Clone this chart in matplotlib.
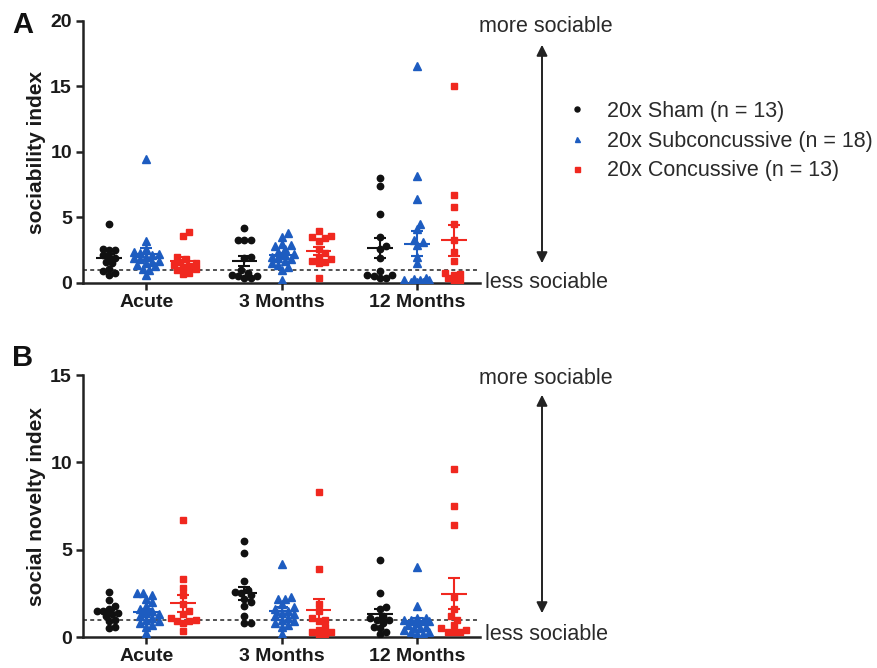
import numpy as np
import matplotlib.pyplot as plt
from matplotlib.lines import Line2D
from matplotlib.patches import FancyArrowPatch

plt.rcParams['font.family'] = ['Liberation Sans', 'DejaVu Sans']

timepoints = ['Acute', '3 Months', '12 Months']
group_labels = ['20x Sham (n = 13)', '20x Subconcussive (n = 18)', '20x Concussive (n = 13)']
colors = ['#111111', '#1d5cc0', '#f0281f']
markers = ['o', '^', 's']
marker_sizes = [4.6, 5.6, 4.4]

# panel A: sociability index, one list per time point
soc_sham = [
    [4.5, 2.6, 2.5, 2.5, 2.1, 2.0, 1.9, 1.6, 1.5, 1.1, 0.9, 0.8, 0.6],
    [4.2, 3.3, 3.3, 3.3, 2.0, 1.9, 1.0, 0.8, 0.6, 0.5, 0.4, 0.4, 0.5],
    [8.0, 7.4, 5.3, 3.5, 2.8, 2.6, 1.9, 0.9, 0.6, 0.5, 0.4, 0.4, 0.6],
]
soc_sub = [
    [9.5, 3.2, 2.6, 2.4, 2.3, 2.2, 2.1, 2.0, 1.9, 1.8, 1.7, 1.6, 1.5, 1.4, 1.3, 1.1, 1.0, 0.6],
    [3.8, 3.5, 3.0, 2.9, 2.8, 2.6, 2.4, 2.2, 2.1, 2.0, 1.9, 1.8, 1.7, 1.5, 1.4, 1.2, 1.0, 0.2],
    [16.6, 8.2, 6.4, 4.5, 4.1, 3.3, 3.1, 2.9, 2.0, 1.5, 0.4, 0.3, 0.2, 0.2, 0.2, 0.1, 0.1, 0.1],
]
soc_conc = [
    [3.9, 3.6, 2.0, 1.8, 1.6, 1.5, 1.4, 1.3, 1.2, 1.1, 1.0, 0.8, 0.7],
    [4.0, 3.6, 3.5, 3.4, 3.2, 2.6, 2.3, 2.0, 1.8, 1.7, 1.6, 1.5, 0.4],
    [15.0, 6.7, 5.8, 4.5, 3.3, 2.4, 1.7, 0.8, 0.7, 0.6, 0.4, 0.2, 0.1],
]

# panel B: social novelty index
nov_sham = [
    [2.6, 2.1, 1.8, 1.6, 1.5, 1.5, 1.4, 1.3, 1.2, 1.0, 0.9, 0.6, 0.5],
    [5.5, 4.8, 3.2, 2.7, 2.6, 2.5, 2.4, 2.2, 2.0, 1.8, 1.2, 0.8, 0.8],
    [4.4, 2.5, 1.7, 1.6, 1.2, 1.0, 1.1, 1.0, 0.8, 0.6, 0.5, 0.3, 0.15],
]
nov_sub = [
    [2.5, 2.5, 2.4, 2.2, 2.0, 1.8, 1.6, 1.5, 1.4, 1.3, 1.2, 1.1, 1.0, 0.9, 0.8, 0.7, 0.6, 0.25],
    [4.2, 2.3, 2.2, 2.2, 1.9, 1.7, 1.6, 1.5, 1.4, 1.3, 1.2, 1.1, 1.0, 0.9, 0.8, 0.7, 0.6, 0.2],
    [4.0, 1.8, 1.1, 1.1, 1.0, 1.0, 0.9, 0.9, 0.8, 0.7, 0.6, 0.5, 0.5, 0.4, 0.3, 0.3, 0.2, 0.2],
]
nov_conc = [
    [6.7, 3.3, 2.8, 2.4, 1.9, 1.5, 1.3, 1.1, 1.0, 0.9, 0.9, 0.8, 0.35],
    [8.3, 3.9, 1.9, 1.5, 1.1, 1.0, 0.9, 0.6, 0.4, 0.3, 0.3, 0.2, 0.05],
    [9.6, 7.5, 6.4, 2.3, 1.6, 1.2, 1.0, 0.7, 0.5, 0.4, 0.3, 0.3, 0.3],
]

group_offset = 0.274
tick_col = '#1a1a1a'
note_col = '#2a2a2a'


def swarm_x(ax, x0, vals, spacing_px, max_px=12.5):
    # beeswarm in pixel space, offsets capped so the cloud stays narrow
    pts = ax.transData.transform(np.column_stack([np.full(len(vals), x0), vals]))
    xc = pts[0, 0]
    order = np.argsort(pts[:, 1])
    placed = []
    xs = np.zeros(len(vals))
    cands = [0.0]
    k = 1
    while k * spacing_px * 0.5 <= max_px:
        cands += [k * spacing_px * 0.5, -k * spacing_px * 0.5]
        k += 1
    for i in order:
        y = pts[i, 1]
        best, best_d = 0.0, -1
        for c in cands:
            d = min([np.hypot(c - px, y - py) for px, py in placed] + [1e9])
            if d >= spacing_px * 0.97:
                best = c
                break
            if d > best_d:
                best, best_d = c, d
        placed.append((best, y))
        xs[i] = xc + best
    back = ax.transData.inverted().transform(np.column_stack([xs, pts[:, 1]]))
    return back[:, 0]


def draw_panel(ax, data, ymax, yticks, ylabel):
    ax.set_xlim(-0.467, 2.467)
    ax.set_ylim(0, ymax)
    for s in ['top', 'right']:
        ax.spines[s].set_visible(False)
    for s in ['left', 'bottom']:
        ax.spines[s].set_linewidth(1.8)
        ax.spines[s].set_color('#222222')
    ax.axhline(1, color='#444444', lw=1.3, ls=(0, (2.2, 1.8)), zorder=1)
    for g, series in enumerate(data):
        for t, vals in enumerate(series):
            vals = np.array(vals)
            x0 = t + (g - 1) * group_offset
            xs = swarm_x(ax, x0, vals, 6.2)
            ax.plot(xs, vals, ls='none', marker=markers[g], ms=marker_sizes[g],
                    color=colors[g], mec=colors[g], zorder=3)
            m = vals.mean()
            sem = vals.std(ddof=1) / np.sqrt(len(vals))
            ax.hlines(m, x0 - 0.095, x0 + 0.095, color=colors[g], lw=1.5, zorder=4)
            ax.errorbar(x0, m, yerr=sem, color=colors[g], lw=1.5, capsize=4.5,
                        capthick=1.5, zorder=4)
    ax.set_xticks(range(len(timepoints)))
    ax.set_xticklabels(timepoints, fontsize=14, fontweight='bold', color=tick_col)
    ax.set_yticks(yticks)
    ax.set_yticklabels([str(v) for v in yticks], fontsize=14, fontweight='bold', color=tick_col)
    ax.tick_params(axis='both', direction='out', length=5, width=1.8, color='#222222', pad=3)
    ax.set_ylabel(ylabel, fontsize=15, fontweight='bold', color=tick_col, labelpad=3)


fig = plt.figure(figsize=(8.78, 6.68), dpi=100)
W, H = 878, 668

axA = fig.add_axes([83 / W, 1 - 283 / H, 397 / W, 262 / H])
draw_panel(axA, [soc_sham, soc_sub, soc_conc], 20, [0, 5, 10, 15, 20], 'sociability index')

axB = fig.add_axes([83 / W, 1 - 637 / H, 397 / W, 262 / H])
draw_panel(axB, [nov_sham, nov_sub, nov_conc], 15, [0, 5, 10, 15], 'social novelty index')

fig.text(12 / W, 1 - 33 / H, 'A', fontsize=21, fontweight='bold', color='#111111')
fig.text(12 / W, 1 - 366 / H, 'B', fontsize=21, fontweight='bold', color='#111111')

# sociability direction arrows and labels
for top_txt, y0, y1, bot_txt in [(26, 42, 266, 283), (378, 392, 616, 634)]:
    fig.text(546 / W, 1 - top_txt / H, 'more sociable', fontsize=15.5, color=note_col,
             ha='center', va='center')
    fig.text(485 / W, 1 - bot_txt / H, 'less sociable', fontsize=15.5, color=note_col,
             ha='left', va='center')
    arr = FancyArrowPatch((542 / W, 1 - y0 / H), (542 / W, 1 - y1 / H),
                          transform=fig.transFigure, arrowstyle='<|-|>',
                          mutation_scale=16, color='#222222', lw=1.4)
    fig.add_artist(arr)

handles = [Line2D([], [], ls='none', marker=markers[g], ms=3.6, color=colors[g])
           for g in range(3)]
fig.legend(handles, group_labels, loc='center left', bbox_to_anchor=(566 / W, 1 - 141 / H),
           frameon=False, fontsize=15.5, handlelength=1.0, handletextpad=0.9,
           labelspacing=0.4, borderpad=0, borderaxespad=0, labelcolor=note_col)

fig.savefig('out.png', dpi=100)
